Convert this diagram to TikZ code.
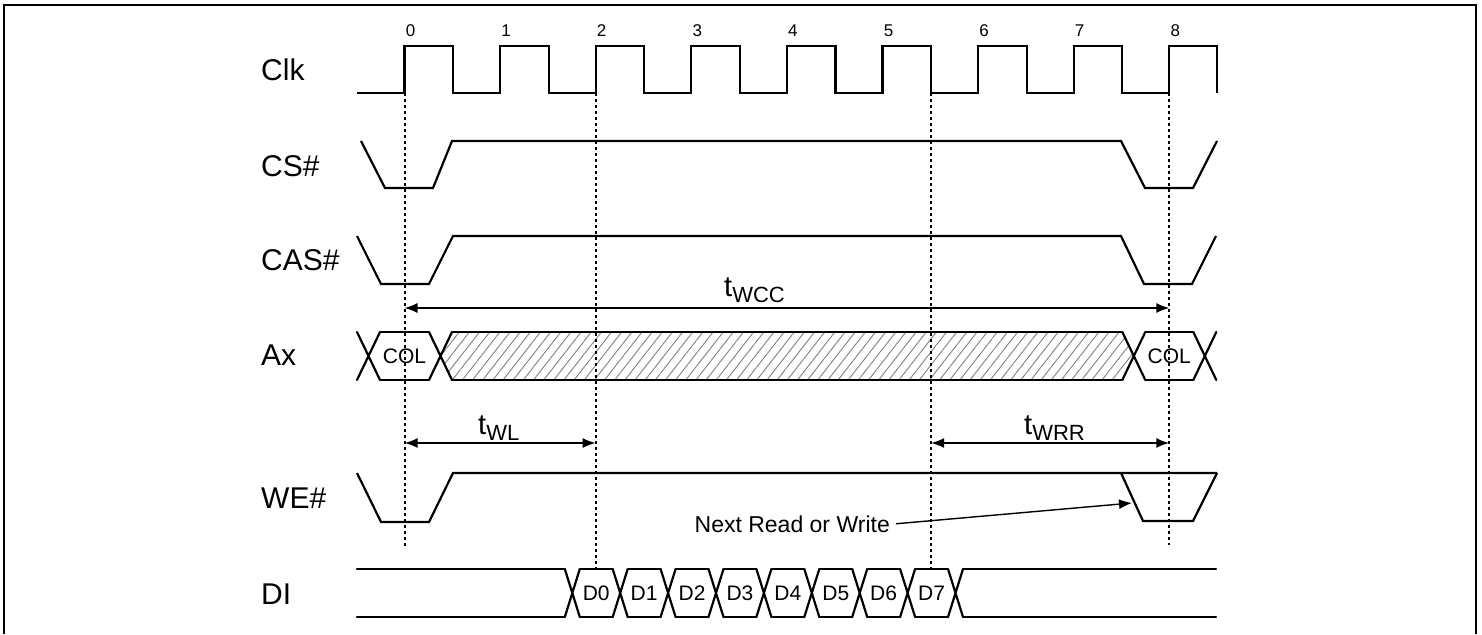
\documentclass[tikz,border=0pt]{standalone}
\usepackage{fontspec}
\setmainfont{Liberation Sans}
\usetikzlibrary{arrows.meta,patterns.meta,calc}

\begin{document}
\begin{tikzpicture}[x=1pt,y=-1pt,
    sig/.style={line width=2.2pt,line join=miter},
    bus/.style={line width=2.2pt,line cap=round,line join=round},
    signame/.style={anchor=base west,inner sep=0pt,font=\fontsize{30}{36}\selectfont},
    cyclenum/.style={anchor=base,inner sep=0pt,font=\fontsize{17}{20}\selectfont},
    busval/.style={inner sep=0pt,font=\fontsize{21}{25}\selectfont},
    guide/.style={line width=2pt,dash pattern=on 3pt off 3pt},
    span/.style={line width=2pt,{Latex[length=13pt,width=10pt]}-{Latex[length=13pt,width=10pt]}},
    tname/.style={anchor=base west,inner sep=0pt,font=\fontsize{29}{34}\selectfont},
    note/.style={inner sep=0pt,font=\fontsize{23}{27}\selectfont}]
  \useasboundingbox (0,0) rectangle (1482,634);
  \draw[line width=2.5pt] (4,634) -- (4,5) -- (1476,5) -- (1476,634);

  % clock
  \def\T{95.6}
  \foreach \k in {0,...,8}{
    \coordinate (r\k) at ({404.5+\k*\T},93);
    \node[cyclenum] (n\k) at ({410.5+\k*\T},37) {\k};
  }
  \coordinate (f5) at ({404.5+5*\T+48.5},93);
  \draw[sig] (357,93) foreach \k in {0,...,7}{ -- (r\k) -- ++(0,-47) -- ++(48.5,0) -- ++(0,47) }
    -- (r8) -- ++(0,-47) -- (1217,46) -- (1217,93);

  % signal names
  \node[signame] (clk) at (261,81) {Clk};
  \node[signame] (cs) at (261,176) {CS\#};
  \node[signame] (cas) at (261,270) {CAS\#};
  \node[signame] (ax) at (261,365) {Ax};
  \node[signame] (we) at (261,508) {WE\#};
  \node[signame] (di) at (261,604) {DI};

  % CS# and CAS#
  \draw[sig] (361,141) -- (385,188) -- (433,188) -- (452,141) -- (1121,141) -- (1145,188) -- (1193,188) -- (1217,141);
  \draw[sig] (357,236) -- (381,284) -- (429,284) -- (453,236) -- (1121,236) -- (1144,284) -- (1192,284) -- (1216,236);

  % Ax
  \fill[pattern={Lines[angle=52,distance=8pt,line width=0.9pt]},pattern color=gray]
    (440.5,356) -- (452,332) -- (1122.3,332) -- (1133.8,356) -- (1122.3,380) -- (452,380) -- cycle;
  \foreach \c in {368.5,440.5,1133.8,1204.8}
    \draw[bus] ({\c-11.5},332) -- ({\c+11.5},380) ({\c-11.5},380) -- ({\c+11.5},332);
  \draw[bus] (380,332) -- (429,332) (380,380) -- (429,380)
    (452,332) -- (1122.3,332) (452,380) -- (1122.3,380)
    (1145.3,332) -- (1193.3,332) (1145.3,380) -- (1193.3,380);
  \node[busval] (col0) at (404.5,356) {COL};
  \node[busval] (col1) at (1169.3,356) {COL};

  % WE#
  \draw[sig] (357,473) -- (381,522) -- (429,522) -- (453,473) -- (1217,473);
  \draw[sig] (1121,473) -- (1143,521) -- (1193,521) -- (1217,473);

  % DI
  \foreach \k in {0,...,8}{
    \pgfmathsetmacro\c{572.3+47.9*\k}
    \draw[bus] ({\c-7.5},569) -- ({\c+7.5},617) ({\c-7.5},617) -- ({\c+7.5},569);
  }
  \foreach \k in {0,...,7}{
    \pgfmathsetmacro\c{572.3+47.9*\k}
    \draw[bus] ({\c+7.5},569) -- ({\c+40.4},569) ({\c+7.5},617) -- ({\c+40.4},617);
    \node[busval] (d\k) at ({\c+23.95},593) {D\k};
  }
  \draw[bus] (357,569) -- (564.8,569) (357,617) -- (564.8,617)
    (963,569) -- (1216,569) (963,617) -- (1216,617);

  % guides
  \draw[guide] (r0) -- ++(0,454);
  \draw[guide] (r2) -- ++(0,476);
  \draw[guide] (f5) -- ++(0,476);
  \draw[guide] (r8) -- ++(0,452);

  % timings
  \draw[span,line width=1.4pt] ($(r0)+(0,215)$) -- ($(r8)+(0,215)$);
  \node[tname] (twcc) at (724,296) {t\raisebox{-6pt}{\fontsize{22}{26}\selectfont WCC}};
  \draw[span] ($(r0)+(0,350)$) -- ($(r2)+(0,350)$);
  \node[tname] (twl) at (478,434) {t\raisebox{-6pt}{\fontsize{22}{26}\selectfont WL}};
  \draw[span] ($(f5)+(0,350)$) -- ($(r8)+(0,350)$);
  \node[tname] (twrr) at (1024,434) {t\raisebox{-6pt}{\fontsize{22}{26}\selectfont WRR}};

  \node[note,anchor=base east] (nrw) at (890,532) {Next Read or Write};
  \coordinate (wefall) at (1132,503);
  \draw[line width=1.4pt,-{Latex[length=13pt,width=10pt]}] ([xshift=6pt]nrw.east) -- (wefall);
\end{tikzpicture}
\end{document}
